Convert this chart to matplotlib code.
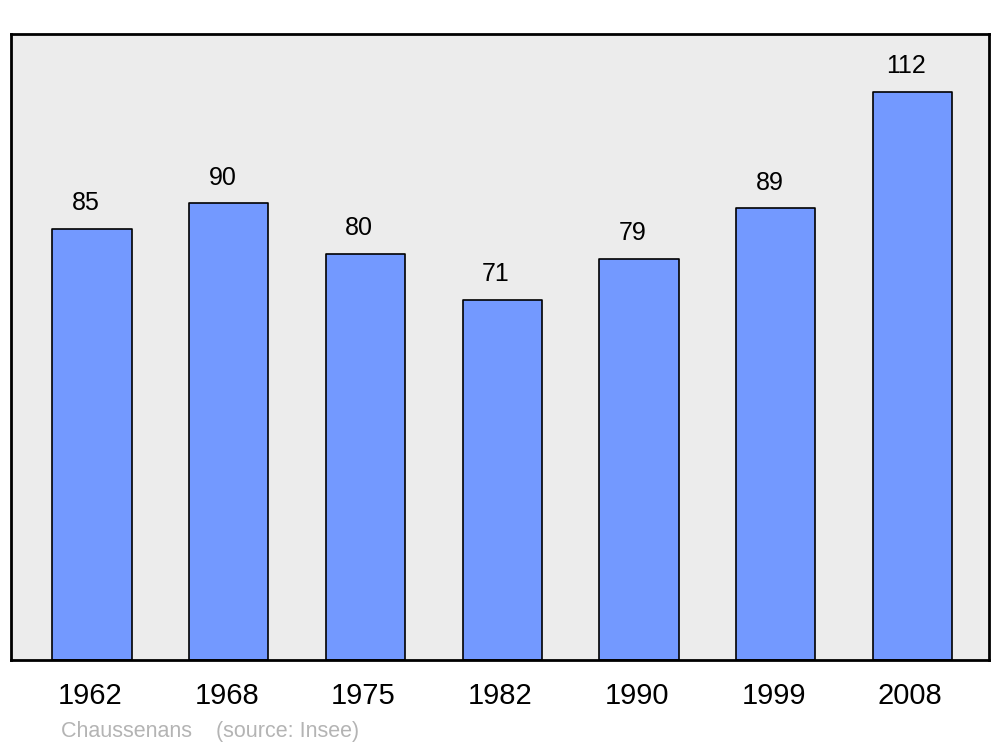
import matplotlib.pyplot as plt
from matplotlib.transforms import ScaledTranslation

years = ['1962', '1968', '1975', '1982', '1990', '1999', '2008']
population = [85, 90, 80, 71, 79, 89, 112]

plt.rcParams['font.family'] = ['Liberation Sans', 'DejaVu Sans']

fig = plt.figure(figsize=(10, 7.47), dpi=100)
ax = fig.add_axes([0.011, 0.1165, 0.978, 0.838])
ax.set_facecolor('#ececec')

x = range(len(years))
bars = ax.bar(x, population, width=0.58, color='#7399ff', edgecolor='black',
              linewidth=1.2, joinstyle='round')

for b, v in zip(bars, population):
    ax.annotate(str(v), (b.get_x() + b.get_width() / 2, b.get_height()),
                xytext=(-4.5, 10), textcoords='offset points',
                ha='center', va='bottom', fontsize=18)

ax.set_xlim(-0.593, 6.56)
ax.set_ylim(0, 123.4)
ax.set_xticks(list(x))
ax.set_xticklabels(years, fontsize=21)
ax.tick_params(axis='x', length=0, pad=16)
# labels sit a touch left of bar centres in the original
shift = ScaledTranslation(-1.5 / 72, 0, fig.dpi_scale_trans)
for lbl in ax.get_xticklabels():
    lbl.set_transform(lbl.get_transform() + shift)
ax.set_yticks([])
for s in ax.spines.values():
    s.set_linewidth(2)
    s.set_joinstyle('round')

fig.text(0.061, 0.013, 'Chaussenans    (source: Insee)', color='#b4b4b4', fontsize=15.5)

fig.savefig('out.png')
